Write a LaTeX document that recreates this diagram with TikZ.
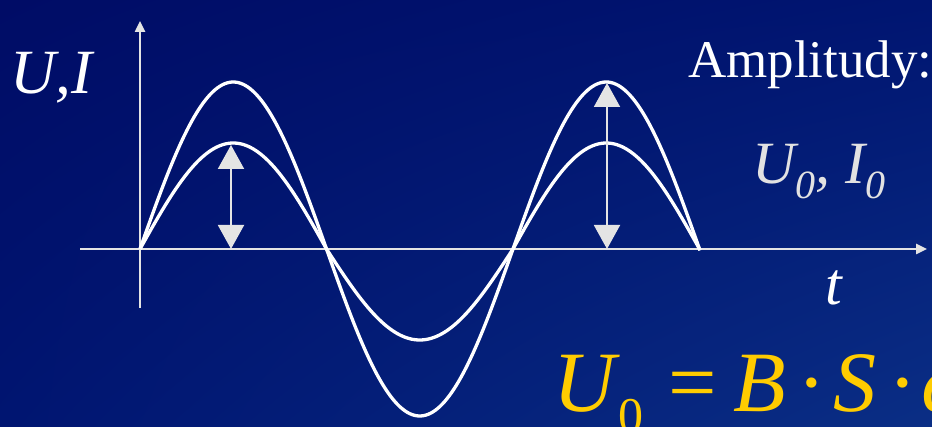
\documentclass[tikz,border=0pt]{standalone}
\usepackage{fontspec}
\setmainfont{Liberation Serif}
\usetikzlibrary{arrows.meta,shadings}
\definecolor{bgA}{HTML}{000C66}
\definecolor{bgB}{HTML}{001571}
\definecolor{bgC}{HTML}{0A2E85}
\definecolor{axisgray}{HTML}{E4E4E4}
\definecolor{labelgray}{HTML}{E2E2E2}
\definecolor{formulay}{HTML}{FFCC00}
\begin{document}
\begin{tikzpicture}[x=1pt,y=-1pt,
  curve/.style={white,line width=3.3pt},
  axisline/.style={axisgray,line width=2.4pt},
  axistip/.style={-{Triangle[width=10pt,length=11pt]}},
  amparrow/.style={axisgray,line width=2pt,{Triangle[width=26pt,length=24pt]}-{Triangle[width=26pt,length=24pt]}},
  lbl/.style={inner sep=0pt,anchor=base west},
  fglyph/.style={inner sep=0pt,anchor=base,formulay,font=\fontsize{86}{86}\selectfont}]
\useasboundingbox (0,0) rectangle (932,427);
\shade[upper left=bgA, upper right=bgB, lower left=bgB, lower right=bgC] (0,0) rectangle (932,427);
\clip (0,0) rectangle (932,427);
% axes
\coordinate (O) at (140,249);
\coordinate (ytop) at (140,21);
\coordinate (ybot) at (140,308);
\coordinate (xl) at (80,249);
\coordinate (xr) at (927,249);
\draw[axisline,axistip] (ybot) -- (ytop);
\draw[axisline,axistip] (xl) -- (xr);
% curves
\draw[curve] plot[domain=0:560,samples=240] ({140+\x},{249-167*sin(\x/186.5*180)});
\draw[curve,line join=round] plot[domain=0:186.5,samples=80] ({140+\x},{249-106*sin(\x/186.5*180)})
  -- plot[domain=186.5:373,samples=80] ({140+\x},{249-91*sin(\x/186.5*180)})
  -- plot[domain=373:560,samples=80] ({140+\x},{249-106*sin(\x/186.5*180)});
% amplitude arrows
\coordinate (a1t) at (231,145);
\coordinate (a1b) at (231,249);
\coordinate (a2t) at (607,83);
\coordinate (a2b) at (607,249);
\draw[amparrow] (a1b) -- (a1t);
\draw[amparrow] (a2b) -- (a2t);
% labels
\node[lbl,white,font=\fontsize{63}{63}\selectfont\itshape] (ui) at (10,94) {U,I};
\node[lbl,white,font=\fontsize{53}{53}\selectfont] (amp) at (688,78) {Amplitudy:};
\node[lbl,labelgray,font=\fontsize{60}{60}\selectfont\itshape] (ui0) at (752,184)
  {U\raisebox{-15pt}{\fontsize{40}{40}\selectfont 0}, I\raisebox{-15pt}{\fontsize{40}{40}\selectfont 0}};
\node[lbl,white,font=\fontsize{60}{60}\selectfont\itshape] (t) at (825,305) {t};
% formula U_0 = B . S . omega (cut by the lower/right edge)
\node[fglyph,font=\fontsize{86}{86}\selectfont\itshape] (fU) at (585,412) {U};
\node[fglyph,font=\fontsize{50}{50}\selectfont] (f0) at (631,433) {0};
\node[fglyph] (feq) at (693,412) {=};
\node[fglyph,font=\fontsize{86}{86}\selectfont\itshape] (fB) at (760,412) {B};
\node[fglyph] (fd1) at (812,412) {·};
\node[fglyph,font=\fontsize{86}{86}\selectfont\itshape] (fS) at (855,412) {S};
\node[fglyph] (fd2) at (903,412) {·};
\node[fglyph,anchor=base west,font=\fontsize{86}{86}\selectfont\itshape] (fw) at (921,412) {ω};
\end{tikzpicture}
\end{document}
